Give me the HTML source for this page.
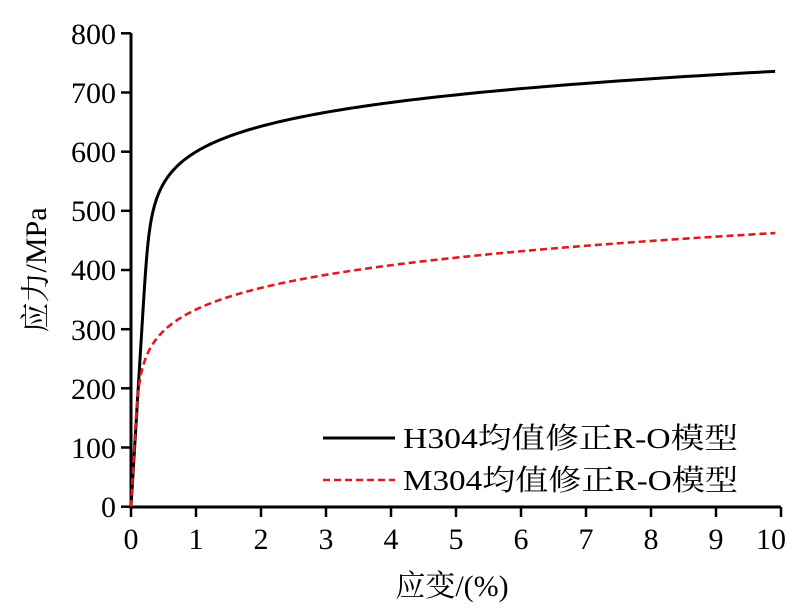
<!DOCTYPE html>
<html><head><meta charset="utf-8"><style>body{margin:0;background:#fff}svg{display:block}</style></head><body>
<svg id="s" width="806" height="613" viewBox="0 0 806 613" xmlns="http://www.w3.org/2000/svg" font-family="Liberation Serif, Noto Serif CJK SC, serif">
<rect width="806" height="613" fill="#fff"/>
<g stroke="#000" stroke-width="3" fill="none">
<line x1="131" y1="33" x2="131" y2="508"/>
<line x1="129.5" y1="507" x2="781" y2="507"/>
<g stroke-width="2.5">
<line x1="121" y1="33.3" x2="131" y2="33.3"/><line x1="121" y1="92.5" x2="131" y2="92.5"/><line x1="121" y1="151.7" x2="131" y2="151.7"/><line x1="121" y1="210.8" x2="131" y2="210.8"/><line x1="121" y1="270" x2="131" y2="270"/><line x1="121" y1="329.2" x2="131" y2="329.2"/><line x1="121" y1="388.3" x2="131" y2="388.3"/><line x1="121" y1="447.5" x2="131" y2="447.5"/><line x1="121" y1="506.7" x2="131" y2="506.7"/>
<line x1="131" y1="507" x2="131" y2="517"/><line x1="196" y1="507" x2="196" y2="517"/><line x1="261" y1="507" x2="261" y2="517"/><line x1="326" y1="507" x2="326" y2="517"/><line x1="391" y1="507" x2="391" y2="517"/><line x1="456" y1="507" x2="456" y2="517"/><line x1="521" y1="507" x2="521" y2="517"/><line x1="586" y1="507" x2="586" y2="517"/><line x1="651" y1="507" x2="651" y2="517"/><line x1="716" y1="507" x2="716" y2="517"/><line x1="781" y1="507" x2="781" y2="517"/>
</g></g>
<g font-size="30" text-anchor="end">
<text x="116" y="44">800</text><text x="116" y="103">700</text><text x="116" y="162">600</text><text x="116" y="221">500</text><text x="116" y="280">400</text><text x="116" y="340">300</text><text x="116" y="399">200</text><text x="116" y="458">100</text><text x="116" y="517">0</text>
</g>
<g font-size="30" text-anchor="middle">
<text x="131" y="549">0</text><text x="196" y="549">1</text><text x="261" y="549">2</text><text x="326" y="549">3</text><text x="391" y="549">4</text><text x="456" y="549">5</text><text x="521" y="549">6</text><text x="586" y="549">7</text><text x="651" y="549">8</text><text x="716" y="549">9</text><text x="771" y="549">10</text>
<text x="452" y="596">应变/(%)</text>
</g>
<text transform="translate(46,270) rotate(-90)" font-size="30" text-anchor="middle">应力/MPa</text>
<path id="b" fill="none" stroke="#000" stroke-width="3"/>
<path id="r" fill="none" stroke="#e31a1c" stroke-width="2.6" stroke-dasharray="7,4"/>
<line x1="323" y1="438" x2="395" y2="438" stroke="#000" stroke-width="3"/>
<line x1="323" y1="480" x2="395" y2="480" stroke="#e31a1c" stroke-width="2.6" stroke-dasharray="7,4"/>
<g font-size="29"><text x="403" y="448" textLength="335" lengthAdjust="spacingAndGlyphs">H304均值修正R-O模型</text><text x="403" y="490" textLength="335" lengthAdjust="spacingAndGlyphs">M304均值修正R-O模型</text></g>
</svg>
<script>
function mk(E,K,s0,n,smax){var d="";for(var s=0;s<=smax+0.01;s+=smax/600){var e=s/E+K*Math.pow(s/s0,n);if(e>10)break;var x=131+e*65,y=506.7-s*0.5917;d+=(d?"L":"M")+x.toFixed(2)+","+y.toFixed(2);}return d;}
document.getElementById("b").setAttribute("d",mk(1800,0.67,600,13,737));
document.getElementById("r").setAttribute("d",mk(2000,0.83,333,7.48,464));
</script>
</body></html>
